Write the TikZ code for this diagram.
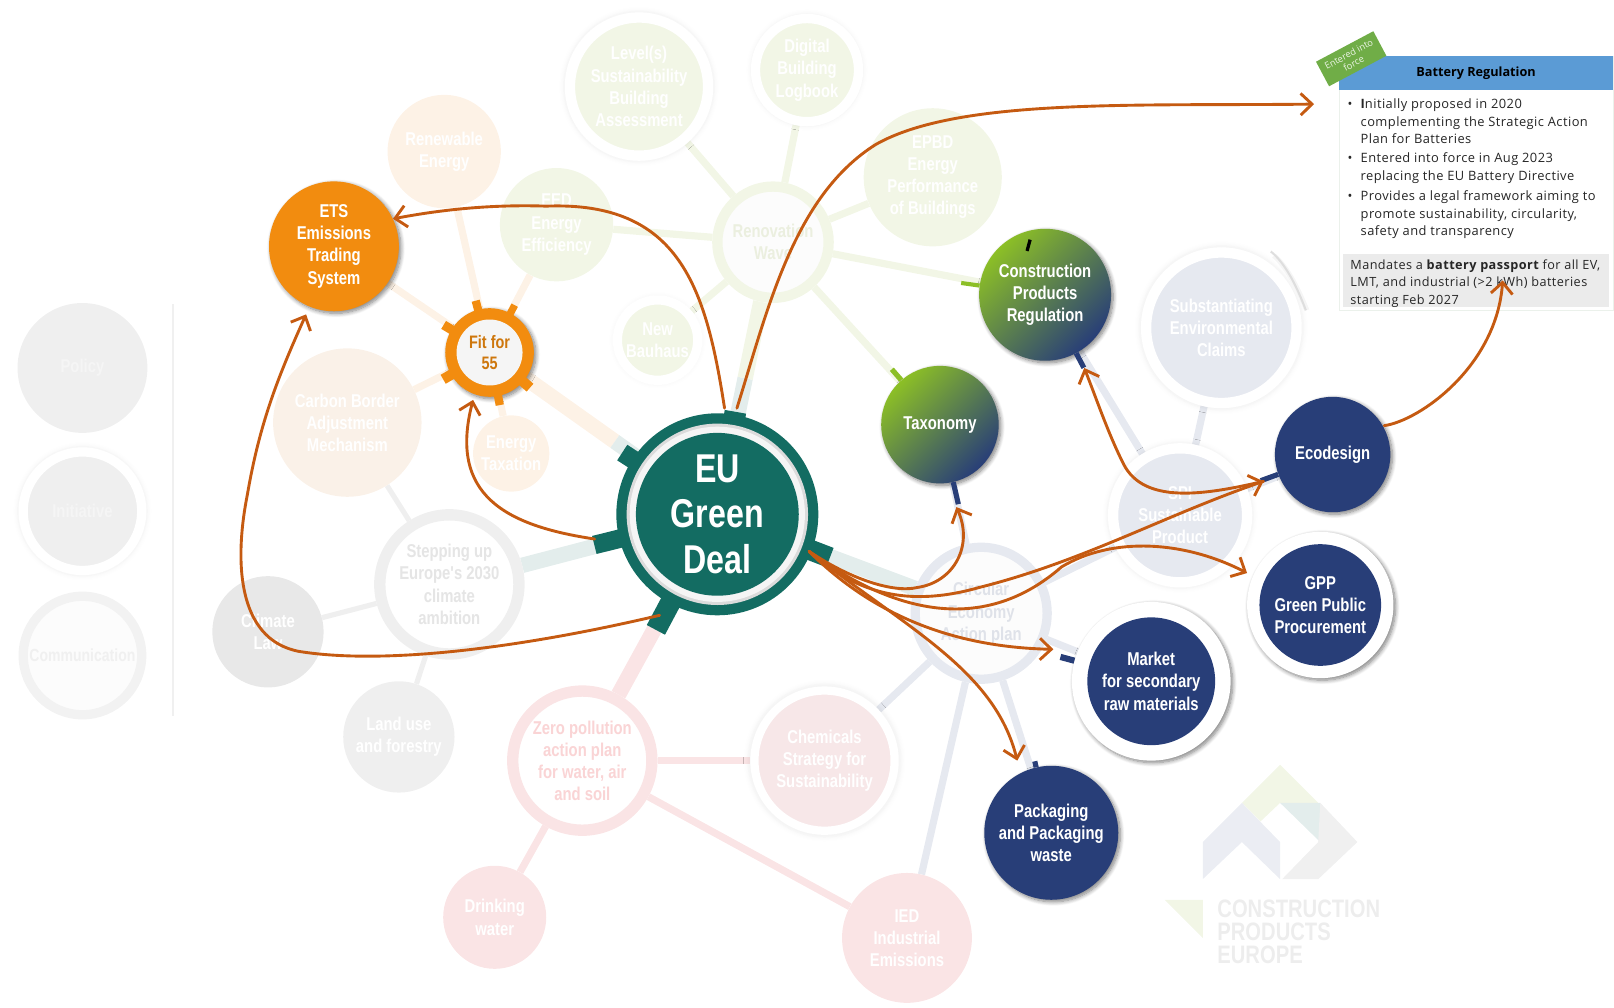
\documentclass[tikz,border=0pt]{standalone}
\usepackage{fontspec}
\setmainfont{Open Sans}
\newfontfamily\panelfont[LetterSpace=3.5]{Open Sans}
\newfontfamily\condfont[FakeStretch=0.8]{Liberation Sans}
\usetikzlibrary{calc}
\usetikzlibrary{arrows.meta}
\usetikzlibrary{shadings}
\usetikzlibrary{shadows.blur}
\usetikzlibrary{backgrounds}
\definecolor{flowc}{HTML}{C55A11}
\definecolor{tealc}{HTML}{136C62}
\definecolor{navyc}{HTML}{283E78}
\definecolor{orangec}{HTML}{F28C0F}
\definecolor{limec}{HTML}{8CBF26}
\definecolor{headc}{HTML}{5B9BD5}
\definecolor{tagc}{HTML}{70AD47}
\definecolor{fgreen}{HTML}{F2F6E6}
\definecolor{forange}{HTML}{FDF2E6}
\definecolor{fgray}{HTML}{EFEFEF}
\definecolor{fred}{HTML}{FAE4E5}
\definecolor{fblue}{HTML}{E6E9F0}
\newcommand{\bubfont}{\condfont\bfseries\fontsize{18}{21.5}\selectfont}
\newcommand{\boxfont}{\panelfont\fontsize{12.5}{16.9}\selectfont}
\tikzset{
  bub/.style={circle,inner sep=0pt,align=center,font=\bubfont,text=white},
  solid/.style={bub,blur shadow={shadow xshift=2pt,shadow yshift=-2pt,shadow blur radius=4pt,shadow blur steps=8,shadow opacity=50}},
  ringed/.style={bub,draw=white,blur shadow={shadow xshift=0pt,shadow yshift=0pt,shadow scale=1.09,shadow blur radius=4pt,shadow blur steps=6,shadow opacity=6}},
  spoke/.style={line width=7pt},
  flow/.style={draw=flowc,line width=2.8pt,line cap=round,-{Straight Barb[length=11pt,width=21pt,line width=2.8pt]}},
  item/.style={anchor=north west,inner sep=0pt,font=\boxfont,align=left,text=black!85},
}
\begin{document}
\begin{tikzpicture}[x=1pt,y=-1pt]
\useasboundingbox (0,0) rectangle (1566,978);

% legend
\node[bub,fill=fgray,minimum size=126pt,text=white!96!black] (policy) at (80,357) {Policy};
\node[ringed,fill=fgray,line width=9pt,minimum size=115pt,text=white!96!black] (initiative) at (80,496) {Initiative};
\node[bub,fill=white!99!black,draw=white!95!black,line width=9pt,minimum size=115pt,text=white!94!black,font=\condfont\bfseries\fontsize{17}{21}\selectfont] (communication) at (80,636) {Communication};
\draw[white!94!black,line width=1.5pt] (168,295) -- (168,695);

% faded bubbles, green
\node[ringed,fill=fgreen,line width=10pt,minimum size=134pt] (levels) at (620,84) {Level(s)\\Sustainability\\Building\\Assessment};
\node[ringed,fill=fgreen,line width=9pt,minimum size=100pt] (digital) at (783,68) {Digital\\Building\\Logbook};
\node[bub,fill=fgreen,minimum size=134pt] (epbd) at (905,172) {EPBD\\Energy\\Performance\\of Buildings};
\node[bub,fill=white!99!black,draw=fgreen,line width=10pt,minimum size=108pt,text=fgreen!97!black] (reno) at (750,235) {Renovation\\Wave};
\node[bub,fill=fgreen,minimum size=110pt] (eed) at (540,218) {EED\\Energy\\Efficiency};
\node[ringed,fill=fgreen,line width=9pt,minimum size=78pt] (bauhaus) at (638,330) {New\\Bauhaus};

% faded bubbles, orange
\node[bub,fill=forange,minimum size=110pt] (renew) at (431,147) {Renewable\\Energy};
\node[bub,fill=forange!80!fgray,minimum size=144pt] (cbam) at (337,410) {Carbon Border\\Adjustment\\Mechanism};
\node[bub,fill=forange,minimum size=74pt] (tax) at (496,440) {Energy\\Taxation};

% faded bubbles, gray
\node[bub,fill=white,draw=fgray,line width=11pt,minimum size=135pt,text=white!90!black] (stepping) at (436,567) {Stepping up\\Europe's 2030\\climate\\ambition};
\node[bub,fill=white!91!black,minimum size=108pt] (climate) at (260,613) {Climate\\Law};
\node[bub,fill=fgray,minimum size=108pt] (land) at (387,715) {Land use\\and forestry};

% faded bubbles, red
\node[bub,fill=white,draw=fred,line width=11pt,minimum size=135pt,text=fred!93!red] (zero) at (565,738) {Zero pollution\\action plan\\for water, air\\and soil};
\node[bub,fill=fred,minimum size=100pt] (drink) at (480,890) {Drinking\\water};
\node[ringed,fill=fred!70!fgray,line width=8pt,minimum size=136pt] (chem) at (800,738) {Chemicals\\Strategy for\\Sustainability};
\node[bub,fill=fred,minimum size=126pt] (ied) at (880,910) {IED\\Industrial\\Emissions};

% faded bubbles, blue
\node[bub,fill=white!99!black,draw=fblue,line width=9pt,minimum size=128pt,text=fblue!97!black] (circular) at (952,595) {Circular\\Economy\\Action plan};
\node[ringed,fill=fblue,line width=10pt,minimum size=130pt] (spi) at (1145,500) {SPI\\Sustainable\\Product};
\node[ringed,fill=fblue,line width=10pt,minimum size=146pt] (claims) at (1185,318) {Substantiating\\Environmental\\Claims};
\draw[black!4,line width=5pt] (1236,248) .. controls (1250,260) and (1260,282) .. (1268,301);
\draw[black!13,line width=2pt] (1233,244) .. controls (1248,256) and (1259,280) .. (1267,301);

% main nodes
\node[solid,fill=orangec,minimum size=126pt] (ets) at (324,239) {ETS\\Emissions\\Trading\\System};
\node[solid,fill=orangec,minimum size=86pt] (fit) at (475,342) {};
\node[bub,fill=white!96!black,minimum size=64pt,text=orangec!85!black,font=\condfont\bfseries\fontsize{17.5}{21}\selectfont] (fitcore) at (fit) {Fit for\\55};
\node[solid,minimum size=128pt,top color=limec,middle color=limec!45!navyc,bottom color=navyc,shading angle=45] (cpr) at (1014,286) {Construction\\Products\\Regulation};
\node[solid,minimum size=114pt,top color=limec,middle color=limec!45!navyc,bottom color=navyc,shading angle=45] (taxonomy) at (912,412) {Taxonomy};
\node[solid,fill=navyc,minimum size=112pt] (ecodesign) at (1293,441) {Ecodesign};
\node[solid,fill=white,minimum size=142pt] (gppring) at (1281,587) {};
\node[bub,fill=navyc,minimum size=118pt] (gpp) at (gppring) {GPP\\Green Public\\Procurement};
\node[solid,fill=white,minimum size=154pt] (marketring) at (1117,661) {};
\node[bub,fill=navyc,minimum size=124pt] (market) at (marketring) {Market\\for secondary\\raw materials};
\node[solid,fill=navyc,minimum size=130pt] (packaging) at (1020,808) {Packaging\\and Packaging\\waste};
\fill[black] (995,243) -- (998,232) -- (1001,233) -- (998,244) -- cycle;

% EU Green Deal
\node[bub,fill=tealc,minimum size=196pt] (eu) at (696,499) {};
\foreach \a/\w/\r in {80/21/101,147/18/110,194/18/123,242/20/127,-21/20/117}{
  \draw[tealc,line width=\w pt] ($(eu.center)+(-\a:88)$) -- ($(eu.center)+(-\a:\r)$);% stubs
}
\fill[black!14!white] (eu.center) circle[radius=88];
\fill[white!96!black] (eu.center) circle[radius=85];
\node[bub,fill=tealc,minimum size=158pt,font=\condfont\bfseries\fontsize{39}{44.5}\selectfont] (eucore) at (eu) {EU\\Green\\Deal};

% stubs of the fit for 55 node
\foreach \a/\w in {105/8,62/7,149/9,210/10,-41/10,-79/8}{
  \draw[orangec,line width=\w pt] (fit.center) ++(-\a:40) -- ++(-\a:12);
}

% spokes
\begin{pgfonlayer}{background}
\draw[spoke,line width=15pt,white!88!tealc] ($(eu)!.5!(reno)$) -- (eu);
\draw[spoke,line width=15pt,fgreen] ($(eu)!.5!(reno)$) -- (reno);
\draw[spoke,line width=15pt,forange] (fit) -- ($(fit)!.55!(eu)$);
\draw[spoke,line width=15pt,white!88!tealc] ($(fit)!.55!(eu)$) -- (eu);
\draw[spoke,line width=15pt,white!88!tealc] (eu) -- (stepping);
\draw[spoke,line width=15pt,fred] (eu) -- (zero);
\draw[spoke,line width=15pt,white!88!tealc] (eu) -- (circular);
\foreach \o in {levels,digital,epbd,eed,bauhaus,cpr,taxonomy}{
  \draw[spoke,fgreen] (reno) -- (\o);
}
\foreach \o in {ets,renew,eed,cbam,tax}{
  \draw[spoke,forange] (fit) -- (\o);
}
\foreach \o in {cbam,climate,land}{
  \draw[spoke,line width=5pt,fgray] (stepping) -- (\o);
}
\foreach \o in {drink,chem,ied}{
  \draw[spoke,fred] (zero) -- (\o);
}
\foreach \o in {taxonomy,market,packaging,chem,ied,spi}{
  \draw[spoke,fblue] (circular) -- (\o);
}
\foreach \o in {claims,cpr,ecodesign}{
  \draw[spoke,fblue] (spi) -- (\o);
}
\end{pgfonlayer}
\draw[limec,line width=4pt] (cpr.172) -- ++(-172:18);
\draw[limec,line width=5pt] (taxonomy.131) -- ++(-131:14);
\draw[navyc,line width=5pt] (taxonomy.-77) -- ++(77:22);
\draw[navyc,line width=5pt] (cpr.-62) -- ++(62:16);
\draw[navyc,line width=5pt] (ecodesign.200) -- ++(-200:18);
\draw[navyc,line width=6pt] (marketring.165) -- ++(-165:14);
\draw[navyc,line width=5pt] (packaging.103) -- ++(-103:6);

% logo
\fill[fgreen] (1242,742) -- (1279,779) -- (1242,779) -- (1223,797) -- (1205,779) -- cycle;
\fill[fblue!80!white] (1167,817) -- (1205,779) -- (1242,817) -- (1242,853) -- (1205,817) -- (1167,853) -- cycle;
\fill[white!88!tealc] (1242,779) -- (1281,779) -- (1281,817) -- cycle;
\fill[white!94!black] (1281,779) -- (1317,817) -- (1279,853) -- (1244,853) -- (1279,817) -- cycle;
\fill[fgreen] (1130,873) -- (1167,873) -- (1167,910) -- cycle;
\node[anchor=north west,inner sep=0pt,align=left,text=white!93!black,font=\condfont\bfseries\fontsize{24.5}{22.5}\selectfont] (logotext) at (1181,873) {CONSTRUCTION\\PRODUCTS\\EUROPE};

% panel
\node[anchor=north west,fill=white,draw=green!30!black!8,minimum width=266pt,minimum height=247pt,inner sep=0pt] (panel) at (1299,54) {};
\node[anchor=north west,fill=headc,minimum width=266pt,minimum height=33pt,inner sep=0pt,font=\fontsize{12.3}{14}\selectfont\bfseries] (head) at (1299,54) {Battery Regulation};
\node[fill=tagc,rotate=28,minimum width=63pt,minimum height=27pt,inner sep=0pt,align=center,text=white!85!tagc,font=\fontsize{9}{10}\selectfont] (tag) at (1311,57) {Entered into\\force};
\node[anchor=north west,fill=black!8,minimum width=258pt,minimum height=52pt,inner sep=0pt] (pass) at (1303,246) {};
\node[item,font=\panelfont\fontsize{12.3}{16.7}\selectfont] (pass1) at (1310,252) {Mandates a {\bfseries battery passport} for all EV,\\LMT, and industrial (>2 kWh) batteries\\starting Feb 2027};
\node[item] (item1) at (1320,96) {\llap{•\hspace{8pt}}{\bfseries I}nitially proposed in 2020\\complementing the Strategic Action\\Plan for Batteries};
\node[item] (item2) at (1320,148) {\llap{•\hspace{8pt}}Entered into force in Aug 2023\\replacing the EU Battery Directive};
\node[item] (item3) at (1320,185) {\llap{•\hspace{8pt}}Provides a legal framework aiming to\\promote sustainability, circularity,\\safety and transparency};

% arrows
\coordinate (euA) at (703,396);
\coordinate (euB) at (715,396);
\coordinate (euC) at (577,523);
\coordinate (euD) at (640,597);
\coordinate (euE) at (785,535);
\coordinate (toPanel) at (1275,101);
\coordinate (toEts) at (297,305);
\coordinate (toFit) at (459,388);
\coordinate (toTax) at (928,492);
\coordinate (toEco) at (1226,467);
\coordinate (toGpp) at (1210,556);
\coordinate (toMarket) at (1022,630);
\coordinate (toPack) at (987,738);
\coordinate (toCpr) at (1052,357);
\coordinate (fromEco) at (1343,413);
\coordinate (toPass) at (1458,272);

\draw[flow] (euA) .. controls (685,280) and (660,195) .. (530,200) .. controls (470,198) and (420,205) .. (ets.25);
\draw[flow] (euB) .. controls (745,300) and (770,190) .. (850,140) .. controls (930,95) and (1100,103) .. (toPanel);
\draw[flow] (euC) .. controls (490,510) and (435,480) .. (toFit);
\draw[flow] (euD) .. controls (500,630) and (370,645) .. (290,632) .. controls (228,620) and (228,540) .. (240,480) .. controls (252,410) and (270,365) .. (toEts);
\draw[flow] (euE) .. controls (830,565) and (870,575) .. (890,570) .. controls (925,565) and (945,530) .. (toTax);
\draw[flow] (euE) .. controls (830,575) and (880,590) .. (950,570) .. controls (1050,545) and (1130,500) .. (toEco);
\draw[flow] (euE) .. controls (860,590) and (950,620) .. (1030,550) .. controls (1080,520) and (1150,525) .. (toGpp);
\draw[flow] (euE) .. controls (850,600) and (930,628) .. (toMarket);
\draw[flow] (euE) .. controls (880,610) and (965,650) .. (toPack);
\draw[flow] (toEco) .. controls (1170,480) and (1110,490) .. (1090,450) .. controls (1075,420) and (1065,390) .. (toCpr);
\draw[flow] (fromEco) .. controls (1378,408) and (1452,355) .. (toPass);
\end{tikzpicture}
\end{document}
